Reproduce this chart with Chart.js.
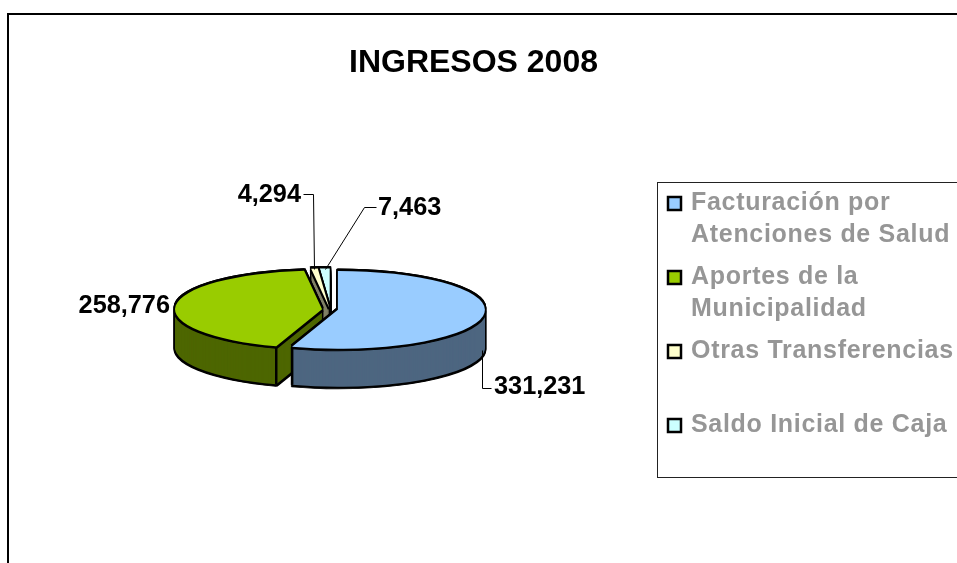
<!DOCTYPE html>
<html>
<head>
<meta charset="utf-8">
<title>INGRESOS 2008</title>
<script src="https://cdn.jsdelivr.net/npm/chart.js@4"></script>
<style>
html, body { margin: 0; padding: 0; background: #fff; overflow: hidden; }
canvas { display: block; }
</style>
</head>
<body>
<canvas id="pie" width="957" height="563"></canvas>
<script>
const chartTitle = 'INGRESOS 2008';
const categories = ['Facturación por Atenciones de Salud', 'Aportes de la Municipalidad', 'Otras Transferencias', 'Saldo Inicial de Caja'];
const legendLines = [['Facturación por', 'Atenciones de Salud'], ['Aportes de la', 'Municipalidad'], ['Otras Transferencias'], ['Saldo Inicial de Caja']];
const values = [331231, 258776, 4294, 7463];
const topColors = ['#99CCFF', '#99CC00', '#FFFFCC', '#CCFFFF'];
const sideColors = ['#4D6680', '#4D6600', '#808066', '#668080'];

const fontName = '"Liberation Sans", Arial, sans-serif';
const pieX = 330;
const pieY = 309.5;
const squash = 0.265;
const depth = 38;
const explode = 8;

// draws one slice through its own arc element, moved and flattened
function drawArc(ctx, arc, dy, fill, border) {
    let mid = (arc.startAngle + arc.endAngle) / 2;
    let keep = arc.options;
    arc.options = Object.assign({}, keep, { backgroundColor: fill, borderColor: border || fill, borderWidth: border ? 3 : 0 });
    ctx.save();
    ctx.translate(pieX + Math.cos(mid) * explode, pieY + dy + Math.sin(mid) * explode * squash);
    ctx.scale(1, squash);
    ctx.translate(-arc.x, -arc.y);
    arc.draw(ctx);
    ctx.restore();
    arc.options = keep;
}

function drawCorner(ctx, arc, angle) {
    if (Math.sin(angle) <= 0) return;
    let mid = (arc.startAngle + arc.endAngle) / 2;
    let x = pieX + Math.cos(mid) * explode + Math.cos(angle) * arc.outerRadius;
    let y = pieY + (Math.sin(mid) * explode + Math.sin(angle) * arc.outerRadius) * squash;
    ctx.strokeStyle = '#000';
    ctx.lineWidth = 2.5;
    ctx.beginPath();
    ctx.moveTo(x, y);
    ctx.lineTo(x, y + depth);
    ctx.stroke();
}

const flatPie = {
    id: 'flatPie',
    beforeDatasetDraw(chart, args) {
        let ctx = chart.ctx;
        let arcs = args.meta.data;
        for (let i = arcs.length - 1; i >= 0; i--) {
            let arc = arcs[i];
            // black outline first, then the side wall, then the top face
            for (let dy = -2; dy <= depth + 2; dy++) drawArc(ctx, arc, dy, '#000', '#000');
            for (let dy = depth; dy >= 2; dy--) drawArc(ctx, arc, dy, sideColors[i]);
            drawCorner(ctx, arc, arc.startAngle);
            drawCorner(ctx, arc, arc.endAngle);
            drawArc(ctx, arc, 2, '#000', '#000');
            drawArc(ctx, arc, -2, '#000', '#000');
            drawArc(ctx, arc, 0, topColors[i]);
        }
        return false;
    },
    afterDraw(chart) {
        let ctx = chart.ctx;
        ctx.save();

        // outer frame, runs off the page on the right and at the bottom
        ctx.strokeStyle = '#000';
        ctx.lineWidth = 2;
        ctx.strokeRect(8, 14, 1000, 700);

        // leader lines
        ctx.strokeStyle = '#000';
        ctx.lineWidth = 1;
        let leaders = [
            [[482, 350], [482, 388], [491, 388]],
            [[303, 194], [313, 194], [314, 269]],
            [[376, 207], [364, 207], [325, 269]]
        ];
        leaders.forEach(line => {
            ctx.beginPath();
            line.forEach((p, i) => i ? ctx.lineTo(p[0] + 0.5, p[1] + 0.5) : ctx.moveTo(p[0] + 0.5, p[1] + 0.5));
            ctx.stroke();
        });

        // value labels
        let labelSpots = [[494, 387, 'left'], [170, 306, 'right'], [301, 195, 'right'], [378, 208, 'left']];
        ctx.font = 'bold 25.3px ' + fontName;
        ctx.fillStyle = '#000';
        ctx.textBaseline = 'middle';
        values.forEach((v, i) => {
            ctx.textAlign = labelSpots[i][2];
            ctx.fillText(v.toLocaleString('en-US'), labelSpots[i][0], labelSpots[i][1]);
        });

        // legend box
        ctx.fillStyle = '#fff';
        ctx.fillRect(657, 182, 320, 295);
        ctx.strokeStyle = '#222';
        ctx.lineWidth = 1;
        ctx.strokeRect(657.5, 182.5, 320, 295);
        let lineTops = [204.5, 278.5, 352.5, 426.5];
        ctx.textAlign = 'left';
        ctx.font = 'bold 25px ' + fontName;
        ctx.letterSpacing = '0.7px';
        legendLines.forEach((lines, i) => {
            ctx.fillStyle = topColors[i];
            ctx.fillRect(668, lineTops[i] - 7.5, 13, 13);
            ctx.strokeStyle = '#000';
            ctx.lineWidth = 2.5;
            ctx.strokeRect(668, lineTops[i] - 7.5, 13, 13);
            ctx.fillStyle = '#969696';
            lines.forEach((text, j) => ctx.fillText(text, 691, lineTops[i] + j * 32 - 1));
        });
        ctx.restore();
    }
};

new Chart(document.getElementById('pie').getContext('2d'), {
    type: 'pie',
    data: {
        labels: categories,
        datasets: [{
            data: values,
            backgroundColor: topColors,
            borderWidth: 0
        }]
    },
    options: {
        responsive: false,
        animation: false,
        events: [],
        radius: 147,
        layout: { padding: { right: 10 } },
        plugins: {
            legend: { display: false },
            tooltip: { enabled: false },
            title: {
                display: true,
                text: chartTitle,
                color: '#000',
                font: { family: fontName, size: 32, weight: 'bold', lineHeight: 1.2 },
                padding: { top: 44, bottom: 10 }
            }
        }
    },
    plugins: [flatPie]
});
</script>
</body>
</html>
